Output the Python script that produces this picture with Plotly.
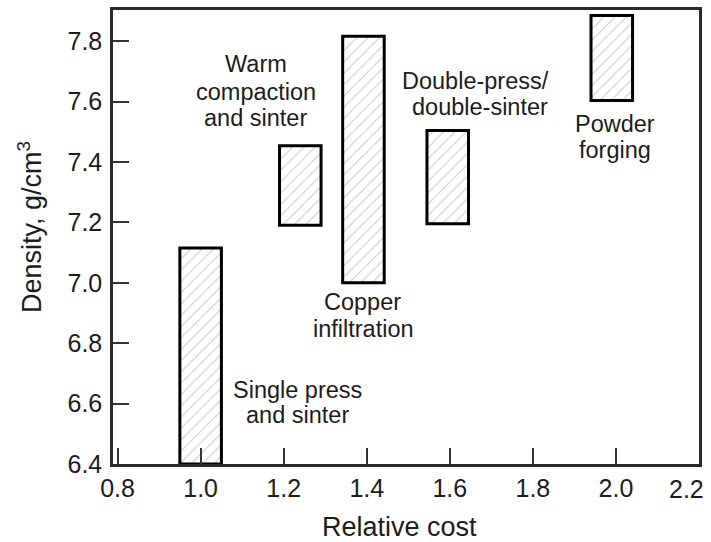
import plotly.graph_objects as go

processes = ["Single press and sinter", "Warm compaction and sinter", "Copper infiltration",
             "Double-press/double-sinter", "Powder forging"]
cost = [1.0, 1.24, 1.392, 1.595, 1.99]
density_low = [6.4, 7.19, 7.0, 7.195, 7.603]
density_high = [7.115, 7.454, 7.816, 7.504, 7.885]

# one entry per text line of the in-plot labels
label_lines = ["Warm", "compaction", "and sinter",
               "Copper", "infiltration",
               "Double-press/", "double-sinter",
               "Powder", "forging",
               "Single press", "and sinter"]
label_x = [1.133, 1.134, 1.133,
           1.390, 1.391,
           1.663, 1.673,
           1.998, 1.998,
           1.233, 1.233]
label_y = [7.723, 7.630, 7.545,
           6.936, 6.846,
           7.668, 7.582,
           7.524, 7.441,
           6.646, 6.563]

x_ticks = [0.8, 1.0, 1.2, 1.4, 1.6, 1.8, 2.0, 2.2]
x_ticktext = ["0.8", "1.0", "1.2", "1.4", "1.6", "1.8", "2.0", "2.2"]
y_ticks = [6.4, 6.6, 6.8, 7.0, 7.2, 7.4, 7.6, 7.8]
y_ticktext = ["6.4", "6.6", "6.8", "7.0", "7.2", "7.4", "7.6", "7.8"]
x_title = "Relative cost"
y_title = "Density, g/cm<sup>3</sup>"

FONT = "Liberation Sans, Arial, sans-serif"
INK = "#1c1c1c"

fig = go.Figure()
fig.add_trace(go.Bar(
    x=cost,
    y=[h - l for h, l in zip(density_high, density_low)],
    base=density_low,
    width=0.1,
    marker=dict(color="white",
                line=dict(color="black", width=3),
                pattern=dict(shape="/", fgcolor="#8f8f8f", bgcolor="white", size=8, solidity=0.12)),
    hoverinfo="skip",
    showlegend=False,
))

for t, x, y in zip(label_lines, label_x, label_y):
    fig.add_annotation(x=x, y=y, text=t, showarrow=False, xref="x", yref="y",
                       xanchor="center", yanchor="middle",
                       font=dict(family=FONT, size=23.5, color=INK), align="center")

# last x tick (on the right frame) is labelled just inside the page edge, as in the original
fig.add_annotation(x=x_ticks[-1], y=0, xref="x", yref="paper", text=x_ticktext[-1],
                   showarrow=False, xanchor="right", yanchor="top", xshift=7, yshift=-9,
                   font=dict(family=FONT, size=25, color=INK))

# axis titles placed as in the original (slightly off-centre)
fig.add_annotation(x=0, y=0, xref="paper", yref="paper", text=x_title, showarrow=False,
                   xanchor="center", yanchor="middle", xshift=286, yshift=-63,
                   font=dict(family=FONT, size=27, color=INK))
fig.add_annotation(x=0, y=0.5, xref="paper", yref="paper", text=y_title, showarrow=False,
                   textangle=-90, xanchor="center", yanchor="middle", xshift=-83, yshift=10,
                   font=dict(family=FONT, size=27, color=INK))

fig.update_layout(
    width=711, height=542,
    margin=dict(l=113, r=12, t=10, b=78),
    paper_bgcolor="white", plot_bgcolor="white",
    font=dict(family=FONT, color=INK),
)
fig.update_xaxes(range=[0.789, 2.2], tickvals=x_ticks[:-1],
                 ticktext=x_ticktext[:-1],
                 ticks="inside", ticklen=16, tickwidth=2, tickcolor="#333",
                 showline=True, linewidth=2.5, linecolor="#2a2a2a", mirror=True,
                 showgrid=False, zeroline=False, automargin=False,
                 tickfont=dict(size=25, family=FONT, color=INK))
fig.update_yaxes(range=[6.4, 7.903], tickvals=y_ticks, ticktext=y_ticktext,
                 ticks="inside", ticklen=16, tickwidth=2, tickcolor="#333",
                 showline=True, linewidth=2.5, linecolor="#2a2a2a", mirror=True,
                 showgrid=False, zeroline=False, automargin=False,
                 ticklabelstandoff=3,
                 tickfont=dict(size=25, family=FONT, color=INK))

fig.write_html("out.html", config={"displayModeBar": False},
               post_script="document.body.style.margin='0';")
